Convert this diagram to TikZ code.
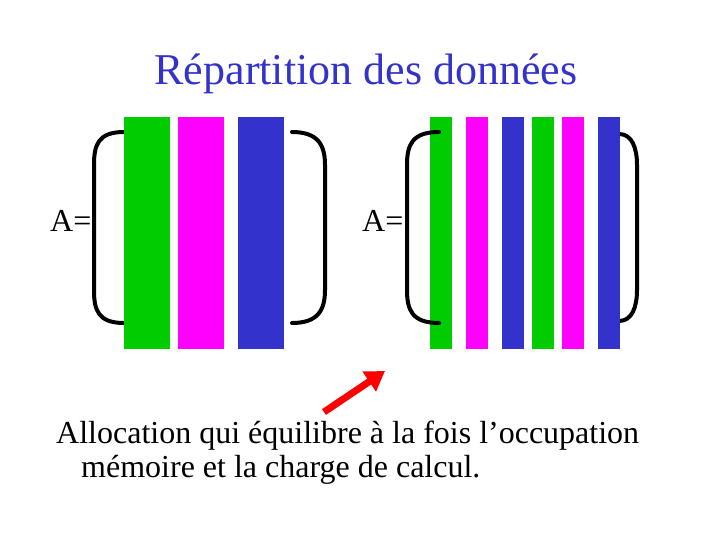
\documentclass[tikz,border=0pt]{standalone}
\usepackage{fontspec}
\setmainfont{Liberation Serif}
\usepackage{xcolor}
\usepackage{tikz}
\usetikzlibrary{arrows.meta, positioning}

\definecolor{titreblue}{HTML}{3333CC}
\definecolor{bargreen}{HTML}{00CC00}
\definecolor{barmagenta}{HTML}{FF00FF}
\definecolor{barblue}{HTML}{3333CC}

\tikzset{
  bracket/.style={line width=4pt, line cap=round},
  colbar/.style={fill=#1, draw=none},
  texte/.style={inner sep=0pt, font=\fontsize{32}{38}\selectfont},
}

\begin{document}
\begin{tikzpicture}[x=1pt, y=-1pt, >=latex]
            \useasboundingbox (0,0) rectangle (720,540);
            % 1. Titre
            \node[text=titreblue, inner sep=0pt, anchor=base, font=\fontsize{44}{52}\selectfont]
                (titre) at (366,85) {Répartition des données};

            % 2. Première matrice : trois colonnes larges
            \node[texte, anchor=west] (A1) at (50,221) {A=};
            \draw[bracket] (124,132) .. controls (98,132) and (94,145) .. (94,165)
                -- (94,290) .. controls (94,310) and (98,323) .. (124,323);
            \draw[bracket] (292,132) .. controls (318,132) and (325,145) .. (325,165)
                -- (325,290) .. controls (325,310) and (318,323) .. (292,323);
            \foreach \x/\c in {124/bargreen, 178/barmagenta, 238/barblue} {
                \fill[colbar=\c] (\x,117) rectangle ++(46,232);
            }

            % 3. Deuxième matrice : six colonnes étroites
            \node[texte, anchor=west] (A2) at (362,221) {A=};
            \draw[bracket] (619,134) .. controls (632,134) and (637,148) .. (637,165)
                -- (637,290) .. controls (637,307) and (632,321) .. (619,321);
            \foreach \x/\c in {430/bargreen, 466/barmagenta, 502/barblue,
                               532/bargreen, 562/barmagenta, 598/barblue} {
                \fill[colbar=\c] (\x,117) rectangle ++(22,232);
            }
            \draw[bracket] (439,132) .. controls (412,132) and (407,145) .. (407,165)
                -- (407,290) .. controls (407,310) and (412,323) .. (439,323);

            % 4. Flèche et commentaire
            \coordinate (depart) at (324,412);
            \coordinate (arrivee) at (385,371);
            \draw[red, line width=7pt, -{Triangle[length=19pt, width=23pt]}] (depart) -- (arrivee);
            \node[texte, anchor=base west] (ligne1) at (56,443)
                {Allocation qui équilibre à la fois l’occupation};
            \node[texte, anchor=base west] (ligne2) at (81,477)
                {mémoire et la charge de calcul.};
        \end{tikzpicture}
\end{document}
